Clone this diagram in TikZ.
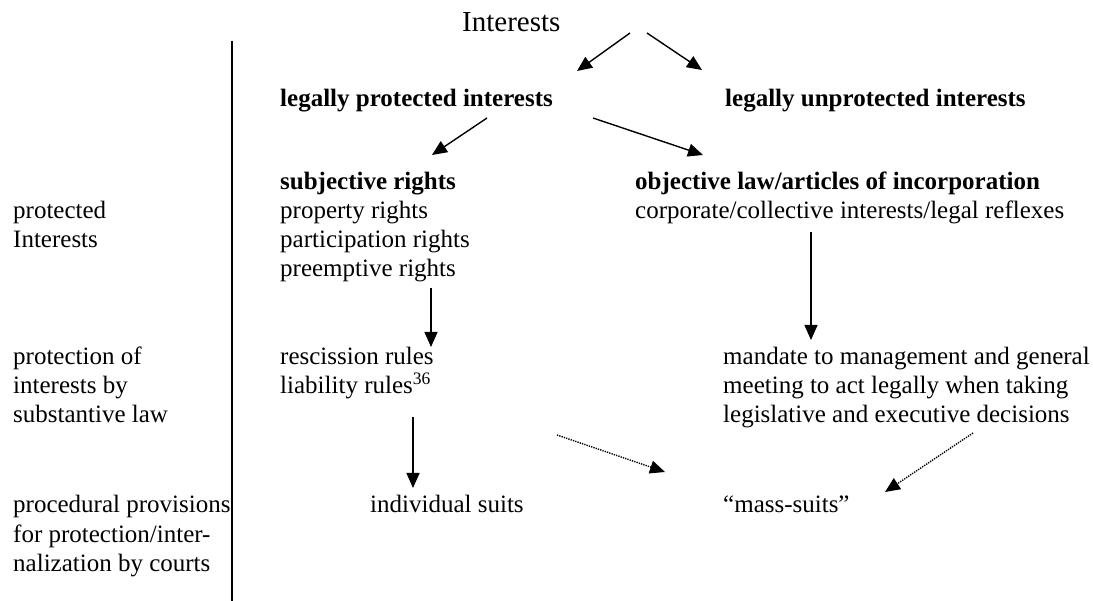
\documentclass[tikz,border=0pt]{standalone}
\usepackage{fontspec}
\setmainfont{Liberation Serif}
\usetikzlibrary{arrows.meta}
\newcommand{\bodysize}{\fontsize{25}{29}\selectfont}
\tikzset{
  txt/.style={anchor=base west,inner sep=0pt,font=\bodysize},
  hd/.style={anchor=base west,inner sep=0pt,font=\bodysize\bfseries},
  arr/.style={-{Triangle[length=15pt,width=13pt]},line width=1.4pt},
  darr/.style={arr,dash pattern=on 1.3pt off 1.1pt},
  divider/.style={line width=1.6pt},
}
\begin{document}
\begin{tikzpicture}[x=1pt,y=-1pt]
  \useasboundingbox (0,0) rectangle (1093,601);
  % top of the tree
  \node[txt,font=\fontsize{29}{33}\selectfont] (title) at (462,32) {Interests};
  \node[hd] (lpi) at (280,107) {legally protected interests};
  \node[hd] (lui) at (725,107) {legally unprotected interests};
  % left column of levels
  \node[txt] (lv1a) at (13,219) {protected};
  \node[txt] (lv1b) at (13,248) {Interests};
  \node[txt] (lv2a) at (13,365) {protection of};
  \node[txt] (lv2b) at (13,394) {interests by};
  \node[txt] (lv2c) at (13,423) {substantive law};
  \node[txt] (lv3a) at (13,513) {procedural provisions};
  \node[txt] (lv3b) at (13,542) {for protection/inter-};
  \node[txt] (lv3c) at (13,571) {nalization by courts};
  \coordinate (divtop) at (232,41);
  \coordinate (divbot) at (232,601);
  \draw[divider] (divtop) -- (divbot);
  % subjective side
  \node[hd] (subj) at (280,190) {subjective rights};
  \node[txt] (prop) at (280,219) {property rights};
  \node[txt] (part) at (280,248) {participation rights};
  \node[txt] (pree) at (280,277) {preemptive rights};
  \node[txt] (resc) at (280,365) {rescission rules};
  \node[txt] (liab) at (280,394) {liability rules\textsuperscript{36}};
  \node[txt] (indiv) at (370,513) {individual suits};
  % objective side
  \node[hd] (obj) at (635,190) {objective law/articles of incorporation};
  \node[txt] (corp) at (635,219) {corporate/collective interests/legal reflexes};
  \node[txt] (mand) at (723,365) {mandate to management and general};
  \node[txt] (meet) at (723,394) {meeting to act legally when taking};
  \node[txt] (legi) at (723,423) {legislative and executive decisions};
  \node[txt] (mass) at (723,513) {``mass-suits''};
  % arrow ends
  \coordinate (a1) at (630,33);  \coordinate (a2) at (577,71);
  \coordinate (b1) at (647,33);  \coordinate (b2) at (702,70);
  \coordinate (c1) at (487,118); \coordinate (c2) at (432,155);
  \coordinate (d1) at (593,118); \coordinate (d2) at (703,155);
  \coordinate (e1) at (431,288); \coordinate (e2) at (431,347);
  \coordinate (f1) at (413,417); \coordinate (f2) at (413,488);
  \coordinate (i1) at (811,232); \coordinate (i2) at (811,340);
  \coordinate (g1) at (557,435); \coordinate (g2) at (665,472);
  \coordinate (h1) at (973,433); \coordinate (h2) at (885,492);
  \draw[arr] (a1) -- (a2);
  \draw[arr] (b1) -- (b2);
  \draw[arr] (c1) -- (c2);
  \draw[arr] (d1) -- (d2);
  \draw[arr] (e1) -- (e2);
  \draw[arr] (f1) -- (f2);
  \draw[arr] (i1) -- (i2);
  \draw[darr] (g1) -- (g2);
  \draw[darr] (h1) -- (h2);
\end{tikzpicture}
\end{document}
